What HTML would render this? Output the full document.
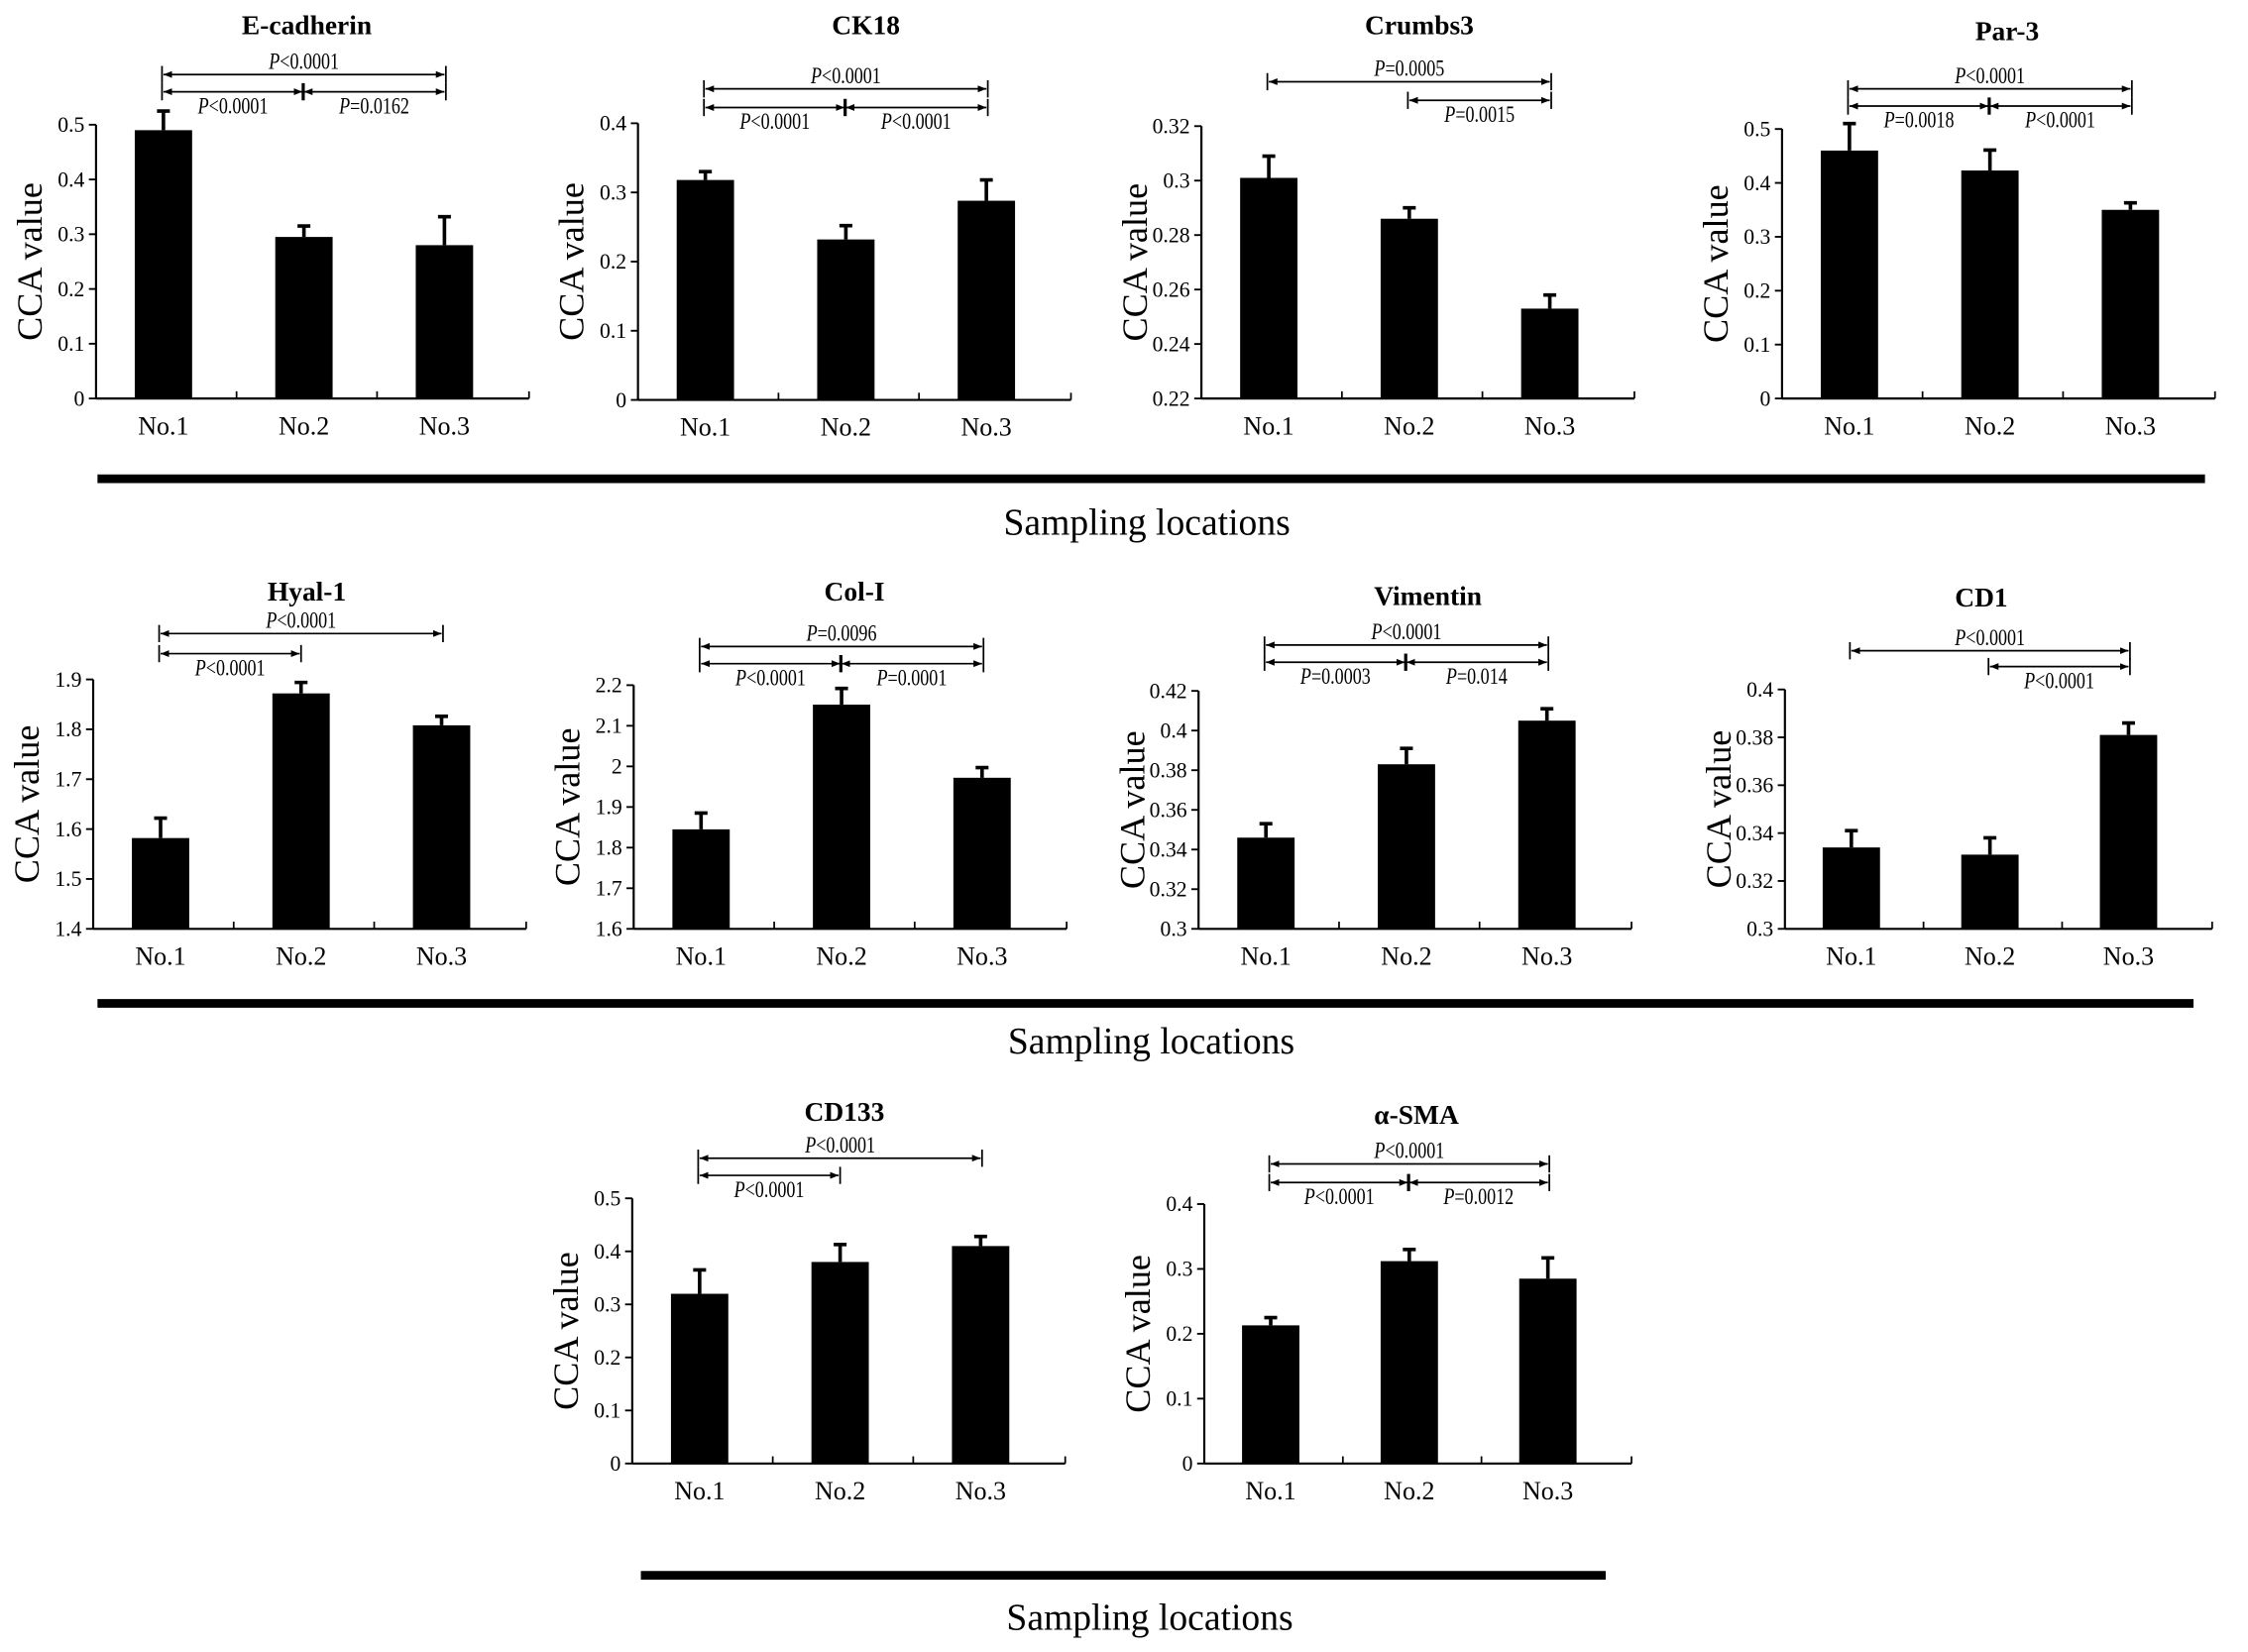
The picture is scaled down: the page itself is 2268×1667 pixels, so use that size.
<!DOCTYPE html>
<html><head><meta charset="utf-8"><style>
html,body{margin:0;padding:0;background:#fff;}
svg{display:block;}
text{font-family:"Liberation Serif",serif;fill:#000;}
</style></head><body>
<svg id="fig" width="2268" height="1667" viewBox="0 0 1568 1152.5" preserveAspectRatio="none" xmlns="http://www.w3.org/2000/svg">
<defs>
<marker id="arrE" viewBox="0 0 10 10" refX="10" refY="5" markerWidth="5" markerHeight="5" orient="auto"><path d="M0,1 L10,5 L0,9 z" fill="#000"/></marker>
<marker id="arrS" viewBox="0 0 10 10" refX="0" refY="5" markerWidth="5" markerHeight="5" orient="auto"><path d="M10,1 L0,5 L10,9 z" fill="#000"/></marker>
</defs>
<rect x="0" y="0" width="1568" height="1152.5" fill="#fff"/>
<line x1="68" y1="334" x2="1538" y2="334" stroke="#000" stroke-width="6"/>
<text x="800" y="373" font-size="26" text-anchor="middle">Sampling locations</text>
<line x1="68" y1="700" x2="1530" y2="700" stroke="#000" stroke-width="6"/>
<text x="803" y="735" font-size="26" text-anchor="middle">Sampling locations</text>
<line x1="447" y1="1099" x2="1120" y2="1099" stroke="#000" stroke-width="6"/>
<text x="802" y="1137" font-size="26" text-anchor="middle">Sampling locations</text>
</svg>
<script>
const categories = ["No.1","No.2","No.3"];

const ecadherinMeans = [0.49, 0.295, 0.28];
const ecadherinErrors = [0.035, 0.02, 0.052];
const ecadherinTicks = [0, 0.1, 0.2, 0.3, 0.4, 0.5];

const ck18Means = [0.318, 0.232, 0.288];
const ck18Errors = [0.012, 0.02, 0.03];
const ck18Ticks = [0, 0.1, 0.2, 0.3, 0.4];

const crumbs3Means = [0.301, 0.286, 0.253];
const crumbs3Errors = [0.008, 0.004, 0.005];
const crumbs3Ticks = [0.22, 0.24, 0.26, 0.28, 0.3, 0.32];

const par3Means = [0.46, 0.423, 0.35];
const par3Errors = [0.05, 0.038, 0.013];
const par3Ticks = [0, 0.1, 0.2, 0.3, 0.4, 0.5];

const hyal1Means = [1.582, 1.872, 1.808];
const hyal1Errors = [0.04, 0.022, 0.018];
const hyal1Ticks = [1.4, 1.5, 1.6, 1.7, 1.8, 1.9];

const col1Means = [1.845, 2.152, 1.972];
const col1Errors = [0.04, 0.04, 0.025];
const col1Ticks = [1.6, 1.7, 1.8, 1.9, 2, 2.1, 2.2];

const vimentinMeans = [0.346, 0.383, 0.405];
const vimentinErrors = [0.007, 0.008, 0.006];
const vimentinTicks = [0.3, 0.32, 0.34, 0.36, 0.38, 0.4, 0.42];

const cd1Means = [0.334, 0.331, 0.381];
const cd1Errors = [0.007, 0.007, 0.005];
const cd1Ticks = [0.3, 0.32, 0.34, 0.36, 0.38, 0.4];

const cd133Means = [0.32, 0.38, 0.41];
const cd133Errors = [0.045, 0.033, 0.018];
const cd133Ticks = [0, 0.1, 0.2, 0.3, 0.4, 0.5];

const asmaMeans = [0.213, 0.312, 0.285];
const asmaErrors = [0.012, 0.018, 0.032];
const asmaTicks = [0, 0.1, 0.2, 0.3, 0.4];

const ecadherinBrackets = [[0,2,"P","<0.0001",0],[0,1,"P","<0.0001",1],[1,2,"P","=0.0162",1]];
const ck18Brackets = [[0,2,"P","<0.0001",0],[0,1,"P","<0.0001",1],[1,2,"P","<0.0001",1]];
const crumbs3Brackets = [[0,2,"P","=0.0005",0],[1,2,"P","=0.0015",1]];
const par3Brackets = [[0,2,"P","<0.0001",0],[0,1,"P","=0.0018",1],[1,2,"P","<0.0001",1]];
const hyal1Brackets = [[0,2,"P","<0.0001",0],[0,1,"P","<0.0001",1]];
const col1Brackets = [[0,2,"P","=0.0096",0],[0,1,"P","<0.0001",1],[1,2,"P","=0.0001",1]];
const vimentinBrackets = [[0,2,"P","<0.0001",0],[0,1,"P","=0.0003",1],[1,2,"P","=0.014",1]];
const cd1Brackets = [[0,2,"P","<0.0001",0],[1,2,"P","<0.0001",1]];
const cd133Brackets = [[0,2,"P","<0.0001",0],[0,1,"P","<0.0001",1]];
const asmaBrackets = [[0,2,"P","<0.0001",0],[0,1,"P","<0.0001",1],[1,2,"P","=0.0012",1]];

const panels = [
 {key:"e-cadherin",title:"E-cadherin",tx:214,ty:24,left:67,top:87,bottom:278,width:294,means:ecadherinMeans,errors:ecadherinErrors,ticks:ecadherinTicks,brackets:ecadherinBrackets,b0:52,b1:64},
 {key:"ck18",title:"CK18",tx:604,ty:24,left:445,top:86,bottom:279,width:294,means:ck18Means,errors:ck18Errors,ticks:ck18Ticks,brackets:ck18Brackets,b0:62,b1:75},
 {key:"crumbs3",title:"Crumbs3",tx:990,ty:24,left:838,top:88,bottom:278,width:294,means:crumbs3Means,errors:crumbs3Errors,ticks:crumbs3Ticks,brackets:crumbs3Brackets,b0:57,b1:70},
 {key:"par-3",title:"Par-3",tx:1400,ty:28,left:1243,top:90,bottom:278,width:294,means:par3Means,errors:par3Errors,ticks:par3Ticks,brackets:par3Brackets,b0:62,b1:74},
 {key:"hyal-1",title:"Hyal-1",tx:214,ty:419,left:65,top:474,bottom:648,width:294,means:hyal1Means,errors:hyal1Errors,ticks:hyal1Ticks,brackets:hyal1Brackets,b0:442,b1:456},
 {key:"col-i",title:"Col-I",tx:596,ty:419,left:442,top:478,bottom:648,width:294,means:col1Means,errors:col1Errors,ticks:col1Ticks,brackets:col1Brackets,b0:451,b1:463},
 {key:"vimentin",title:"Vimentin",tx:996,ty:422,left:836,top:482,bottom:648,width:294,means:vimentinMeans,errors:vimentinErrors,ticks:vimentinTicks,brackets:vimentinBrackets,b0:450,b1:462},
 {key:"cd1",title:"CD1",tx:1382,ty:423,left:1245,top:481,bottom:648,width:290,means:cd1Means,errors:cd1Errors,ticks:cd1Ticks,brackets:cd1Brackets,b0:454,b1:465},
 {key:"cd133",title:"CD133",tx:589,ty:782,left:441,top:836,bottom:1021,width:294,means:cd133Means,errors:cd133Errors,ticks:cd133Ticks,brackets:cd133Brackets,b0:808,b1:820},
 {key:"a-sma",title:"α-SMA",tx:988,ty:784,left:840,top:840,bottom:1021,width:290,means:asmaMeans,errors:asmaErrors,ticks:asmaTicks,brackets:asmaBrackets,b0:812,b1:825}
];

const NS = "http://www.w3.org/2000/svg";
const svg = document.getElementById("fig");
function mk(tag, attrs, parent){
  const e = document.createElementNS(NS, tag);
  for (const k in attrs) e.setAttribute(k, attrs[k]);
  (parent||svg).appendChild(e);
  return e;
}

panels.forEach(p => {
  const g = mk("g", {});
  
  
  const ymin = p.ticks[0], ymax = p.ticks[p.ticks.length-1];
  const yScale = v => p.bottom - (v - ymin) / (ymax - ymin) * (p.bottom - p.top);
  const band = p.width / 3;
  const xCenter = i => p.left + band * (i + 0.5) - 2;
  const right = p.left + p.width + 8;

  const t = mk("text", {x:p.tx, y:p.ty, "font-size":19, "font-weight":"bold", "text-anchor":"middle"}, g);
  t.textContent = p.title;
  
  

  const ya = mk("line", {x1:p.left, y1:p.top, x2:p.left, y2:p.bottom, stroke:"#000", "stroke-width":1.5}, g);
  
  
  p.ticks.forEach(v => {
    const y = yScale(v);
    mk("line", {x1:p.left-5, y1:y, x2:p.left, y2:y, stroke:"#000", "stroke-width":1.3}, g);
    const tl = mk("text", {x:p.left-8, y:y+5, "font-size":15, "text-anchor":"end"}, g);
    tl.textContent = String(v);
    
    
  });
  const yt = mk("text", {x:0, y:0, "font-size":25, "text-anchor":"middle", transform:`translate(${p.left-38},${(p.top+p.bottom)/2}) rotate(-90)`}, g);
  yt.textContent = "CCA value";
  
  

  const xa = mk("line", {x1:p.left, y1:p.bottom, x2:right, y2:p.bottom, stroke:"#000", "stroke-width":1.5}, g);
  
  
  [1,2,3].forEach(k => {
    const x = p.left + band * k + (k===3 ? 8 : 0);
    mk("line", {x1:x, y1:p.bottom, x2:x, y2:p.bottom-5, stroke:"#000", "stroke-width":1.2}, g);
  });

  categories.forEach((c, i) => {
    const cx = xCenter(i);
    const yv = yScale(p.means[i]);
    const ye = yScale(p.means[i] + p.errors[i]);
    const bw = 40;
    const bar = mk("rect", {x:cx-bw/2, y:yv, width:bw, height:p.bottom-yv, fill:"#000"}, g);
    
    
    const eb = mk("path", {d:`M${cx},${yv} V${ye} M${cx-4.5},${ye} H${cx+4.5}`, stroke:"#000", "stroke-width":2.5, fill:"none"}, g);
    
    
    const xl = mk("text", {x:cx, y:p.bottom+25, "font-size":18, "text-anchor":"middle"}, g);
    xl.textContent = c;
    
    
  });

  p.brackets.forEach(b => {
    const x1 = xCenter(b[0]) - 1, x2 = xCenter(b[1]) + (b[1]===2 ? 1 : 0);
    const y = b[4] === 0 ? p.b0 : p.b1;
    const bg = mk("g", {}, g);
    
    
    mk("line", {x1:x1+1, y1:y, x2:x2-1, y2:y, stroke:"#000", "stroke-width":1.2, "marker-start":"url(#arrS)", "marker-end":"url(#arrE)"}, bg);
    mk("line", {x1:x1, y1:y-6, x2:x1, y2:y+6, stroke:"#000", "stroke-width":1.2}, bg);
    mk("line", {x1:x2, y1:y-6, x2:x2, y2:y+6, stroke:"#000", "stroke-width":1.2}, bg);
    const ly = b[4] === 0 ? y - 4 : y + 15;
    const lt = mk("text", {x:0, y:0, "font-size":16, "text-anchor":"middle", transform:`translate(${(x1+x2)/2},${ly}) scale(0.78,1)`}, bg);
    const ts1 = mk("tspan", {"font-style":"italic"}, lt); ts1.textContent = b[2];
    const ts2 = mk("tspan", {}, lt); ts2.textContent = b[3];
    
    
  });
});
</script>
</body></html>
